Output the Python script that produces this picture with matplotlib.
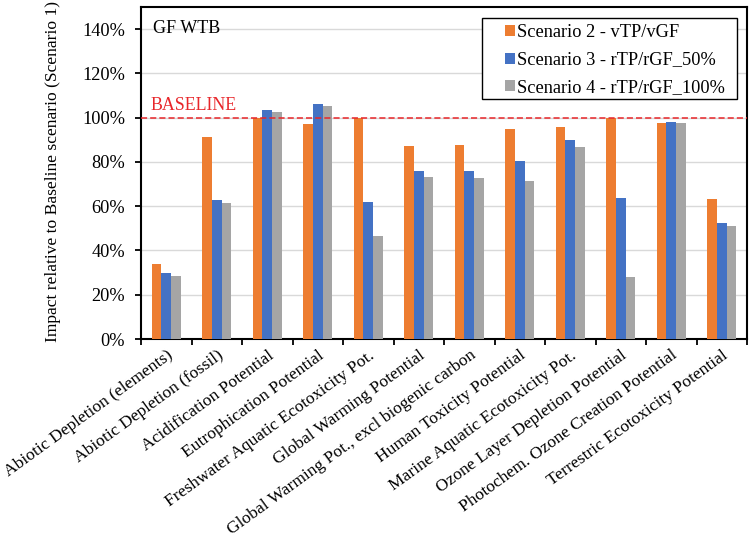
"""
Impact relative to baseline scenario, GF WTB.
"""
import matplotlib
matplotlib.use("Agg")
import matplotlib.pyplot as plt
import matplotlib.transforms as mtransforms
from matplotlib.patches import Rectangle
from matplotlib.ticker import PercentFormatter, FixedLocator
import numpy as np

categories = [
    "Abiotic Depletion (elements)",
    "Abiotic Depletion (fossil)",
    "Acidification Potential",
    "Eutrophication Potential",
    "Freshwater Aquatic Ecotoxicity Pot.",
    "Global Warming Potential",
    "Global Warming Pot., excl biogenic carbon",
    "Human Toxicity Potential",
    "Marine Aquatic Ecotoxicity Pot.",
    "Ozone Layer Depletion Potential",
    "Photochem. Ozone Creation Potential",
    "Terrestric Ecotoxicity Potential",
]
series_names = [
    "Scenario 2 - vTP/vGF",
    "Scenario 3 - rTP/rGF_50%",
    "Scenario 4 - rTP/rGF_100%",
]
scen2 = [34.0, 91.4, 100.0, 97.1, 100.0, 87.3, 87.7, 95.0, 95.9, 100.0, 97.7, 63.2]
scen3 = [29.7, 63.0, 103.3, 106.1, 62.1, 76.1, 76.1, 80.4, 89.9, 63.9, 98.1, 52.2]
scen4 = [28.5, 61.4, 102.7, 105.5, 46.7, 73.3, 72.8, 71.6, 86.8, 28.0, 97.6, 51.0]
colors = ["#ED7D31", "#4472C4", "#A5A5A5"]

plt.rcParams["font.family"] = ["Liberation Serif", "DejaVu Serif"]

fig, ax = plt.subplots(figsize=(7.5, 5.42), dpi=100)
fig.subplots_adjust(left=0.188, right=0.996, top=0.987, bottom=0.3745)

x = np.arange(len(categories))
w = 0.193
for i, (vals, name) in enumerate(zip([scen2, scen3, scen4], series_names)):
    ax.bar(x + (i - 1) * w, vals, width=w, color=colors[i], label=name, zorder=3)

ax.set_xlim(-0.5, len(categories) - 0.5)
ax.set_ylim(0, 150)
ax.set_yticks(np.arange(0, 141, 20))
ax.yaxis.set_major_formatter(PercentFormatter(decimals=0))
ax.grid(axis="y", color="#D9D9D9", lw=1, zorder=0)

# ticks on category boundaries, labels at centres
ax.xaxis.set_major_locator(FixedLocator(np.arange(len(categories) + 1) - 0.5))
ax.set_xticklabels([])
ax.xaxis.set_minor_locator(FixedLocator(x))
ax.set_xticklabels(categories, minor=True, rotation=36, ha="right",
                   rotation_mode="anchor", fontsize=12.6)
shift = mtransforms.ScaledTranslation(-0.05, -0.03, fig.dpi_scale_trans)
for lbl in ax.get_xticklabels(minor=True):
    lbl.set_transform(lbl.get_transform() + shift)
ax.tick_params(axis="x", which="minor", length=0, pad=6)
ax.tick_params(axis="x", which="major", length=4.5, width=1.3, direction="out")
ax.tick_params(axis="y", length=4.5, width=1.3, direction="out", labelsize=13.2, pad=7)

for s in ax.spines.values():
    s.set_linewidth(1.5)
    s.set_color("black")

ax.axhline(100, color="#E8262A", lw=1.1, ls=(0, (4, 2)), zorder=4)
ax.text(0.016, 101.5, "BASELINE", color="#E8262A", fontsize=12.9,
        transform=ax.get_yaxis_transform(), va="bottom", ha="left")
ax.text(0.019, 0.935, "GF WTB", transform=ax.transAxes, fontsize=13, va="center", ha="left")

ax.set_ylabel("Impact relative to Baseline scenario (Scenario 1)", fontsize=12.6)
ax.yaxis.set_label_coords(-0.132, 0.505)

leg = ax.legend(loc="upper left", bbox_to_anchor=(0.6007, 0.949), fontsize=13.2,
                frameon=False, handlelength=0.55, handleheight=0.55,
                handletextpad=0.12, labelspacing=0.58, borderpad=0, borderaxespad=0)
ax.add_patch(Rectangle((0.5627, 0.723), 0.4208, 0.244, transform=ax.transAxes,
                       facecolor="white", edgecolor="black", lw=1.0, zorder=4.5))
leg.set_zorder(5)

fig.savefig("out.png", dpi=100)
plt.close(fig)
